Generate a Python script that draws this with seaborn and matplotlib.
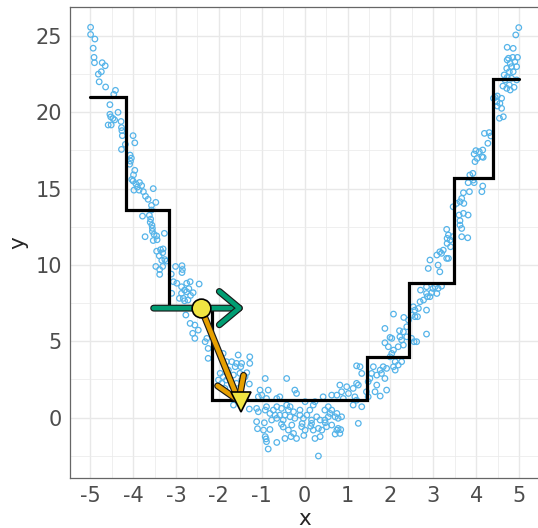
import pandas as pd
import seaborn as sns
import matplotlib.pyplot as plt
import matplotlib.patheffects as pe
from matplotlib.ticker import MultipleLocator

# --- data ----------------------------------------------------------------
# noisy observations (x, y), grouped by region of the plot
pts_upper_left = [
    (-4.99, 25.57), (-4.99, 25.10), (-4.89, 24.80), (-4.93, 24.20), (-4.91, 23.60),
    (-4.90, 23.25), (-4.72, 23.25), (-4.65, 23.05), (-4.74, 22.66), (-4.81, 22.50),
    (-4.79, 22.00), (-4.64, 21.66), (-4.41, 21.44), (-4.45, 21.18), (-4.54, 20.50),
    (-4.35, 20.00), (-4.54, 19.87), (-4.52, 19.70), (-4.47, 19.60), (-4.43, 19.50),
    (-4.58, 19.17), (-4.51, 19.17), (-4.28, 19.40), (-4.27, 19.00), (-4.26, 18.80),
    (-4.25, 18.47), (-4.00, 18.47), (-3.96, 18.00), (-4.27, 17.57), (-4.18, 17.90),
    (-4.07, 17.20), (-4.04, 17.00), (-4.06, 16.80), (-4.08, 16.60), (-3.96, 16.20),
    (-3.99, 15.90), (-4.03, 15.60),
]
pts_left_b = [
    (-4.00, 15.50), (-3.93, 15.30), (-3.85, 15.40), (-3.80, 15.20), (-3.90, 15.10),
    (-3.98, 14.90), (-3.86, 14.90), (-3.53, 15.00), (-3.76, 14.80), (-3.71, 14.50),
    (-3.65, 14.30), (-3.57, 13.90), (-3.47, 14.10), (-3.57, 13.60), (-3.78, 13.20),
    (-3.62, 13.25), (-3.59, 13.00), (-3.60, 12.80), (-3.56, 12.60), (-3.55, 12.40),
]
pts_left_c = [
    (-3.55, 12.20), (-3.51, 12.00), (-3.45, 11.90), (-3.27, 12.07), (-3.72, 11.85),
    (-3.53, 11.60), (-3.44, 11.65), (-3.45, 10.90), (-3.36, 11.00), (-3.31, 10.80),
    (-3.30, 11.05), (-3.39, 10.60), (-3.33, 10.30), (-3.26, 10.35), (-3.22, 10.25),
    (-3.47, 9.90), (-3.38, 9.70), (-3.31, 9.90), (-3.01, 9.90), (-2.86, 9.95),
    (-2.85, 9.70), (-2.86, 9.50), (-3.38, 9.38), (-3.11, 9.40),
]
pts_left_d = [
    (-3.06, 8.90), (-2.98, 8.80), (-2.87, 8.57), (-2.75, 8.80), (-2.67, 8.90),
    (-2.46, 8.75), (-3.10, 8.14), (-2.87, 8.14), (-2.75, 8.24), (-2.60, 8.18),
    (-2.92, 7.81), (-2.83, 7.81), (-2.77, 6.72), (-2.67, 6.17), (-2.56, 6.06),
    (-2.61, 5.52), (-2.48, 5.73), (-2.56, 5.19), (-2.80, 7.65), (-2.72, 7.70),
    (-2.66, 8.00), (-2.80, 8.35), (-2.70, 8.45),
]
pts_center = [
    (-2.32, 4.97), (-2.25, 4.53), (-2.25, 3.88), (-2.28, 5.19), (-1.90, 4.20),
    (-1.82, 3.66), (-1.70, 3.66), (-1.59, 3.55), (-1.47, 3.55), (-1.62, 3.33),
    (-1.49, 3.33), (-1.35, 2.94), (-1.28, 3.98), (-1.28, 3.55), (-1.55, 4.10),
    (-1.51, 2.90), (-1.66, 2.79), (-1.78, 3.11), (-1.90, 2.67), (-1.82, 2.46),
    (-1.97, 2.90), (-2.01, 2.46), (-1.93, 2.24), (-1.86, 1.91), (-1.70, 2.13),
    (-1.59, 2.24), (-1.47, 2.46), (-1.39, 2.67), (-1.29, 2.20), (-1.66, 0.82),
    (-1.29, 0.56), (-1.12, 0.60), (-1.08, 0.38), (-0.92, 0.49), (-0.89, 0.71),
    (-0.73, 0.49), (-0.65, 0.71), (-0.54, 0.60), (-0.42, 0.82), (-1.04, 1.80),
    (-0.85, 1.80), (-0.89, 1.25), (-1.08, 1.36), (-1.00, 1.47), (-0.65, 1.25),
    (-0.58, 1.36), (-0.92, 2.56), (-0.42, 2.56), (-0.23, 1.80), (-0.19, 1.58),
    (0.01, 1.04), (-0.11, 0.49), (-0.26, 0.38), (-0.34, 0.71), (-0.46, 0.16),
    (-0.38, 0.49), (-0.58, 0.16), (-0.69, 0.16), (-0.81, 0.27), (-0.77, -0.16),
    (-0.65, -0.05), (-0.50, -0.16), (-0.34, 0.05), (-0.23, -0.05), (-0.11, 0.16),
    (-0.03, -0.05), (0.05, 0.16), (0.12, 0.49), (0.20, 0.82), (0.24, 1.04),
    (0.16, -0.16), (0.28, 0.05), (0.36, -0.16), (0.47, -0.16), (0.55, 0.05),
    (0.59, 0.27), (0.71, 0.05), (0.78, -0.05), (0.86, 0.05), (0.47, 0.49),
    (0.55, 0.71), (0.63, 0.49), (0.75, 0.27), (0.43, 1.36), (0.63, 1.47),
    (0.75, 1.47), (1.21, 1.14), (1.33, 0.71), (1.25, -0.38), (-1.12, -0.27),
    (-0.96, -0.82), (-0.92, -1.25), (-0.89, -1.58), (-0.85, -2.06), (-0.81, -0.78),
    (-0.65, -1.63), (-0.46, -1.37), (-0.38, -0.82), (-0.26, -1.04), (-0.19, -1.37),
    (-0.30, -0.49), (-0.07, -0.60), (0.01, -0.82), (0.16, -0.38), (0.20, -0.82),
    (0.32, -0.71), (0.36, -1.25), (0.24, -1.37), (0.40, -0.82), (0.51, -0.60),
    (0.63, -0.49), (0.75, -0.82), (0.78, -0.71), (0.82, -1.04), (0.71, -1.08),
    (0.32, -2.52), (-1.10, -0.73), (-0.94, -0.34), (-0.90, -1.40), (-0.54, -0.43),
    (-0.50, -0.62), (-0.32, -1.25), (-0.02, -1.17), (-0.06, -0.39), (0.14, -0.57),
    (0.48, -0.34), (0.84, -0.79), (1.13, 0.82),
]
pts_right_mid = [
    (0.82, 2.13), (0.98, 2.02), (0.86, 1.69), (1.02, 1.58), (1.13, 1.91),
    (1.21, 2.24), (1.25, 2.13), (0.90, 1.25), (1.17, 1.36), (1.44, 1.69),
    (1.48, 1.36), (1.68, 2.13), (1.64, 1.69), (1.76, 1.41), (1.91, 1.80),
    (1.48, 2.35), (1.33, 2.89), (1.29, 3.33), (1.21, 3.39), (1.60, 3.33),
    (1.56, 2.89), (1.52, 2.56), (1.68, 2.78), (1.76, 3.11), (1.83, 3.33),
    (1.79, 2.89), (1.91, 3.22), (1.87, 2.56), (2.07, 3.33), (2.11, 3.11),
    (2.18, 3.44), (2.26, 3.66), (2.11, 3.66), (1.99, 3.98), (2.03, 4.20),
    (1.95, 4.64), (2.07, 4.42), (2.18, 4.64), (2.30, 4.75), (2.26, 5.08),
    (2.22, 5.29), (2.03, 5.19), (1.99, 5.25), (1.87, 4.90), (1.87, 5.84),
    (2.07, 6.78), (2.21, 5.69), (2.30, 5.62), (2.38, 5.29), (2.31, 6.56),
    (2.38, 5.95), (2.42, 6.39), (2.49, 6.71), (2.53, 7.26), (2.57, 7.04),
    (2.65, 7.15), (2.57, 6.61), (2.63, 6.61), (2.61, 4.97), (2.49, 5.19),
    (2.55, 4.97), (2.84, 7.04), (2.84, 5.47), (2.69, 7.59), (2.77, 7.70),
    (2.84, 8.13), (2.86, 7.92), (2.92, 7.92), (2.99, 8.46), (3.04, 8.57),
    (3.11, 8.46), (3.19, 8.61), (2.96, 8.18), (3.08, 8.13), (2.84, 8.57),
    (2.70, 8.35), (2.88, 9.77), (3.15, 9.55), (3.11, 9.99), (2.92, 10.32),
    (3.08, 10.65), (3.15, 10.86), (3.19, 10.76), (3.31, 10.43), (3.35, 10.43),
    (3.23, 10.97), (3.32, 11.74), (3.39, 11.63), (3.35, 11.96), (3.31, 12.33),
    (3.32, 11.41), (3.40, 11.19), (3.45, 11.85), (3.66, 11.85), (3.80, 11.78),
    (3.60, 13.27), (3.70, 13.38), (3.81, 13.27), (3.62, 12.61), (3.66, 12.39),
    (3.62, 12.90), (3.46, 13.81), (3.54, 14.03), (3.62, 14.14), (3.71, 14.03),
]
pts_upper_right = [
    (4.99, 25.55), (4.92, 25.07), (4.72, 24.26), (4.86, 24.19), (4.75, 23.54),
    (4.85, 23.60), (4.72, 23.43), (4.96, 23.60), (4.79, 23.21), (4.90, 23.32),
    (4.71, 22.88), (4.82, 22.99), (4.94, 22.99), (4.77, 22.66), (4.86, 22.66),
    (4.65, 22.45), (4.72, 22.29), (4.82, 22.23), (4.94, 22.12), (4.67, 22.12),
    (4.77, 21.79), (4.88, 21.64), (4.79, 21.46), (4.71, 21.57), (4.62, 21.72),
    (4.44, 20.98), (4.49, 21.07), (4.59, 20.92), (4.48, 20.70), (4.55, 20.59),
    (4.49, 20.41), (4.59, 20.26), (4.54, 19.61), (4.63, 19.71), (4.40, 20.92),
    (4.19, 18.62), (4.30, 18.67), (4.34, 18.45), (4.27, 17.97), (3.99, 17.49),
    (4.07, 17.42), (4.15, 17.53), (3.95, 17.27), (4.13, 17.09), (4.02, 16.98),
    (3.97, 16.77), (4.16, 17.05), (3.92, 16.00), (3.85, 15.89), (3.93, 15.56),
    (3.95, 15.39), (3.81, 15.39), (4.15, 15.17), (4.13, 14.80), (3.70, 14.73),
    (3.84, 14.80), (3.66, 14.36),
]

# fitted regression tree: split points and leaf values
step_x = [-5.0, -4.17, -3.16, -2.17, 1.45, 2.44, 3.49, 4.38, 5.0]
step_y = [21.0, 13.6, 7.17, 1.18, 4.0, 8.83, 15.67, 22.16, 22.16]

# current point, its (horizontal) gradient arrow and the jump to the next leaf
start_pt = (-2.415, 7.17)
green_from = (-3.52, 7.17)
green_to = (-1.44, 7.17)
orange_to = (-1.50, 0.85)
target_pt = (-1.49, 1.00)

# --- plotting -------------------------------------------------------------
points = pd.DataFrame(
    pts_upper_left + pts_left_b + pts_left_c + pts_left_d
    + pts_center + pts_right_mid + pts_upper_right,
    columns=["x", "y"],
)
tree = pd.DataFrame({"x": step_x, "y": step_y})

sns.set_style("white")
plt.rcParams["font.family"] = ["DejaVu Sans"]
plt.rcParams["axes.unicode_minus"] = False

fig = plt.figure(figsize=(5.38, 5.28), dpi=100)
ax = fig.add_axes([70 / 538, 50 / 528, 470 / 538, 471 / 528])

sns.scatterplot(data=points, x="x", y="y", ax=ax, marker="o", s=16,
                linewidth=0.9, facecolor="none", edgecolor="#56B4E9", zorder=2)
ax.collections[-1].set_facecolor("none")

sns.lineplot(data=tree, x="x", y="y", ax=ax, drawstyle="steps-post",
             color="black", linewidth=2.3, estimator=None, sort=False, zorder=3)
ax.lines[-1].set_solid_joinstyle("miter")

outline = [pe.Stroke(linewidth=5.0, foreground="#1a1a1a"), pe.Normal()]
ax.annotate("", xy=green_to, xytext=green_from, zorder=4,
            arrowprops=dict(arrowstyle="->,head_length=0.6,head_width=0.5",
                            mutation_scale=24, color="#009E73", lw=3.3,
                            capstyle="round", joinstyle="round",
                            shrinkA=0, shrinkB=0, path_effects=outline))
ax.annotate("", xy=orange_to, xytext=start_pt, zorder=4,
            arrowprops=dict(arrowstyle="->,head_length=0.65,head_width=0.42",
                            mutation_scale=24, color="#E69F00", lw=3.3,
                            capstyle="round", joinstyle="round",
                            shrinkA=0, shrinkB=0, path_effects=outline))

ax.plot(*target_pt, marker="v", ms=14.5, mfc="#F0E442", mec="black",
        mew=1.2, zorder=6)
ax.plot(*start_pt, marker="o", ms=13.5, mfc="#F0E442", mec="black",
        mew=1.2, zorder=6)

ax.set_xlim(-5.47, 5.485)
ax.set_ylim(-3.96, 26.9)
ax.xaxis.set_major_locator(MultipleLocator(1))
ax.xaxis.set_minor_locator(MultipleLocator(0.5))
ax.yaxis.set_major_locator(MultipleLocator(5))
ax.yaxis.set_minor_locator(MultipleLocator(2.5))

ax.set_axisbelow(True)
ax.grid(which="major", color="#E8E8E8", linewidth=1.0)
ax.grid(which="minor", color="#EBEBEB", linewidth=0.55)
for s in ax.spines.values():
    s.set_color("#666666")
    s.set_linewidth(0.9)

ax.tick_params(which="major", length=3.4, width=0.8, color="#333333",
               labelsize=15, labelcolor="#4D4D4D", pad=2.5)
ax.tick_params(which="minor", length=0)
ax.set_xlabel("x", fontsize=15.5, labelpad=2)
ax.set_ylabel("y", fontsize=15.5, labelpad=5)

fig.savefig("out.png", dpi=100)
